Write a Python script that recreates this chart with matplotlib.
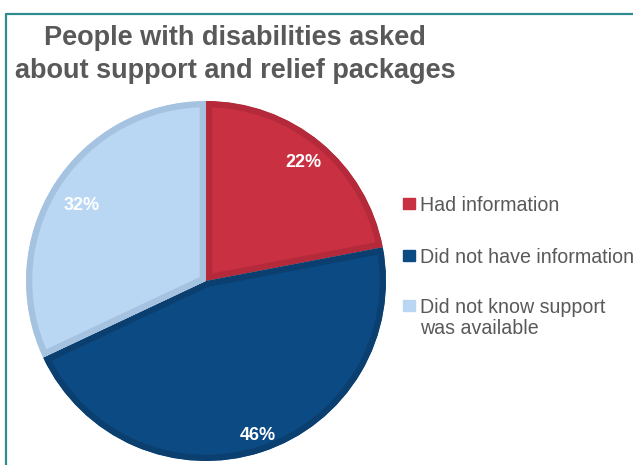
import matplotlib.pyplot as plt
from matplotlib.patches import Rectangle
from matplotlib.lines import Line2D

plt.rcParams["font.family"] = ["Liberation Sans", "DejaVu Sans"]

# dados
categorias = ["Had information", "Did not have information",
              "Did not know support\nwas available"]
valores = [22, 46, 32]
rotulos = ["22%", "46%", "32%"]
cores = ["#C93142", "#0B4A83", "#B9D7F3"]
bordas = ["#B42A3A", "#0A3F70", "#A5C3E0"]

W, H = 633, 465
fig = plt.figure(figsize=(W / 100, H / 100), dpi=100)

# eixo da pizza em coordenadas de pixel
cx, cy, r = 206, 281, 180
ax = fig.add_axes([(cx - r) / W, (H - cy - r) / H, 2 * r / W, 2 * r / H])
wedges, _ = ax.pie(valores, colors=cores, startangle=90, counterclock=False,
                   radius=1.0, wedgeprops=dict(linewidth=0))
ax.set_xlim(-1, 1)
ax.set_ylim(-1, 1)
ax.set_aspect("equal")
ax.axis("off")

# borda interna de cada fatia (clipada na propria fatia)
for w, b in zip(wedges, bordas):
    w.set_edgecolor(b)
    w.set_linewidth(9)
    w.set_clip_path(w)
    w.set_clip_on(True)

# rotulos percentuais
posicoes = [(0.54, 0.66), (0.29, -0.86), (-0.69, 0.42)]
for (x, y), t in zip(posicoes, rotulos):
    ax.text(x, y, t, color="white", fontsize=13, fontweight="bold",
            ha="center", va="center")

# titulo (duas linhas)
titulo = ["People with disabilities asked", "about support and relief packages"]
for yy, linha in zip([45, 78], titulo):
    fig.text(235 / W, 1 - yy / H, linha, ha="center", va="baseline",
             fontsize=19.5, fontweight="bold", color="#595959")

# legenda manual (linha de base do texto em pixels)
leg_y = [211, 263, 313]
for yy, lab, c in zip(leg_y, categorias, cores):
    fig.add_artist(Rectangle((403 / W, 1 - (yy - 2) / H), 12 / W, 11 / H,
                             transform=fig.transFigure, color=c))
    for k, parte in enumerate(lab.split("\n")):
        fig.text(420 / W, 1 - (yy + 21 * k) / H, parte, ha="left", va="baseline",
                 fontsize=14.1, color="#595959")

# moldura verde-azulada
fig.add_artist(Line2D([6 / W, 6 / W, 1], [0, 1 - 14 / H, 1 - 14 / H],
                      transform=fig.transFigure, color="#2E8C8E", linewidth=1.6))

fig.savefig("out.png", dpi=100)
